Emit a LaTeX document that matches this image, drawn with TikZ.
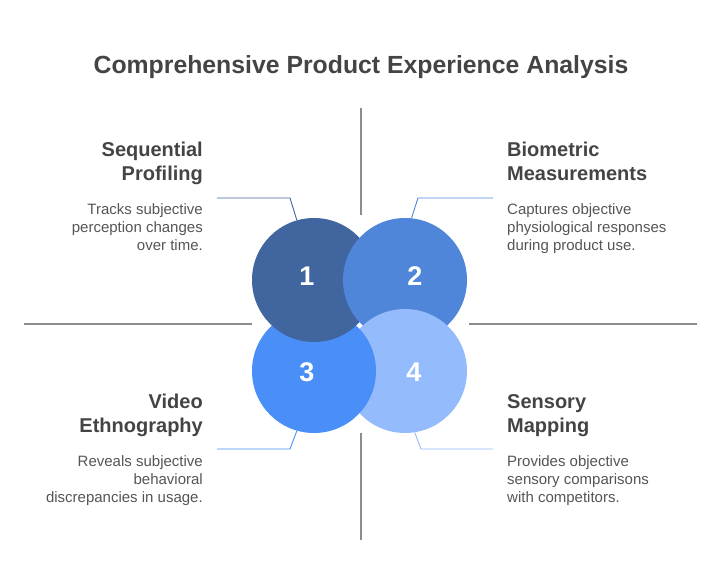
\documentclass[tikz,border=0pt]{standalone}
\usepackage{fontspec}
\setmainfont{Liberation Sans}
\usetikzlibrary{positioning}
\definecolor{capone}{HTML}{41659E}
\definecolor{captwo}{HTML}{4F86D9}
\definecolor{capthree}{HTML}{4A8EF8}
\definecolor{capfour}{HTML}{94BBFC}
\definecolor{inkdark}{HTML}{444444}
\definecolor{inkbody}{HTML}{555555}
\definecolor{axisgrey}{HTML}{8C8C8C}
\begin{document}
\begin{tikzpicture}[
  x=1pt, y=-1pt,
  blob/.style={circle,minimum size=124pt,inner sep=0pt},
  num/.style={text=white,font=\fontsize{27}{30}\selectfont\bfseries},
  head/.style={text=inkdark,font=\fontsize{20}{24}\selectfont\bfseries,inner sep=0pt},
  desc/.style={text=inkbody,font=\fontsize{15}{18}\selectfont,inner sep=0pt},
  axis/.style={draw=axisgrey,line width=1.2pt},
  wire/.style={line width=0.9pt}
]
\useasboundingbox (0,0) rectangle (721,576);

\node[text=inkdark,font=\fontsize{24.8}{28}\selectfont\bfseries] (title) at (361,67.5) {Comprehensive Product Experience Analysis};

% grey cross
\coordinate (vt) at (361,108);
\coordinate (vtb) at (361,215);
\coordinate (vbt) at (361,433);
\coordinate (vb) at (361,540);
\coordinate (hl) at (24,324);
\coordinate (hlr) at (252,324);
\coordinate (hrl) at (469,324);
\coordinate (hr) at (697,324);
\draw[axis] (vt) -- (vtb);
\draw[axis] (vbt) -- (vb);
\draw[axis] (hl) -- (hlr);
\draw[axis] (hrl) -- (hr);

% circles
\node[blob,fill=capfour] (four) at (405,371) {};
\node[blob,fill=capthree] (three) at (314,371) {};
\node[blob,fill=capone] (one) at (314,280) {};
\node[blob,fill=captwo] (two) at (405,280) {};
\begin{scope}
  \clip (two.center) circle (63pt);
  \fill[capfour] (four.center) circle (62pt);
\end{scope}

\node[num] (n1) at (307,276) {1};
\node[num] (n2) at (415,276) {2};
\node[num] (n3) at (307,372) {3};
\node[num] (n4) at (414,372) {4};

% connectors
\coordinate (w1) at (217,198);
\coordinate (k1) at (290,198);
\coordinate (w2) at (493,198);
\coordinate (k2) at (418,198);
\coordinate (w3) at (217,449);
\coordinate (k3) at (290,449);
\coordinate (w4) at (493,449);
\coordinate (k4) at (421,449);
\draw[wire,capone] (w1) -- (k1) -- (one.106);
\draw[wire,captwo] (w2) -- (k2) -- (two.84);
\draw[wire,capthree] (w3) -- (k3) -- (three.254);
\draw[wire,capfour] (w4) -- (k4) -- (four.279);

% texts
\node[head,anchor=north east,align=right] (h1) at (203,142) {Sequential\\Profiling};
\node[desc,anchor=north east,align=right] (d1) at (203,203) {Tracks subjective\\perception changes\\over time.};
\node[head,anchor=north west,align=left] (h2) at (507,142) {Biometric\\Measurements};
\node[desc,anchor=north west,align=left] (d2) at (507,203) {Captures objective\\physiological responses\\during product use.};
\node[head,anchor=north east,align=right] (h3) at (203,394) {Video\\Ethnography};
\node[desc,anchor=north east,align=right] (d3) at (203,455) {Reveals subjective\\behavioral\\discrepancies in usage.};
\node[head,anchor=north west,align=left] (h4) at (507,394) {Sensory\\Mapping};
\node[desc,anchor=north west,align=left] (d4) at (507,455) {Provides objective\\sensory comparisons\\with competitors.};
\end{tikzpicture}
\end{document}
